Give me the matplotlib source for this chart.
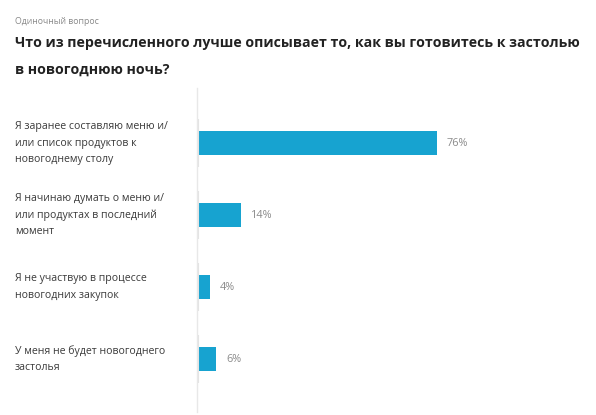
import matplotlib
matplotlib.use("Agg")
import matplotlib.pyplot as plt
import matplotlib.transforms as mtransforms

# survey answers and shares, %
labels = [
    "Я заранее составляю меню и/\nили список продуктов к\nновогоднему столу",
    "Я начинаю думать о меню и/\nили продуктах в последний\nмомент",
    "Я не участвую в процессе\nновогодних закупок",
    "У меня не будет новогоднего\nзастолья",
]
values = [76, 14, 4, 6]
subtitle = "Одиночный вопрос"
title_lines = ["Что из перечисленного лучше описывает то, как вы готовитесь к застолью",
               "в новогоднюю ночь?"]

bar_color = "#17a3d0"
W, H = 596, 415

plt.rcParams["font.family"] = ["Open Sans", "DejaVu Sans"]

fig = plt.figure(figsize=(W / 100, H / 100), dpi=100)
fig.patch.set_facecolor("white")

# axes: x from 197px to right edge, y from 88px to 412px
ax = fig.add_axes([197 / W, 1 - 412 / H, (W - 197) / W, (412 - 88) / H])
ax.set_xlim(0, (W - 197) / 3.154)
ax.set_ylim(3.736, -0.764)

pos = list(range(len(values)))
ax.barh(pos, values, height=0.333, color=bar_color)

for s in ["top", "right", "bottom"]:
    ax.spines[s].set_visible(False)
ax.spines["left"].set_color("#e8e8e8")
ax.spines["left"].set_linewidth(1.0)
ax.set_xticks([])
ax.set_yticks([])

# faint band next to each category
ax.vlines([0.25] * len(pos), [p - 0.333 for p in pos], [p + 0.333 for p in pos],
          color="#e4e4e4", lw=1.5)

for p, v in zip(pos, values):
    ax.text(v + 3.2, p, f"{v}%", va="center", ha="left", fontsize=7.8, color="#8a8a8a")

trans = mtransforms.blended_transform_factory(fig.transFigure, ax.transData)
for p, lab in zip(pos, labels):
    ax.text(15 / W, p, lab, transform=trans, va="center", ha="left",
            fontsize=7.6, color="#3a3a3a", linespacing=1.65)

fig.text(15 / W, 1 - 22 / H, subtitle, fontsize=6.3, color="#8a8a8a", va="center")
fig.text(15 / W, 1 - 43 / H, title_lines[0], fontsize=10.2, fontweight="bold",
         color="#222222", va="center")
fig.text(15 / W, 1 - 70 / H, title_lines[1], fontsize=10.2, fontweight="bold",
         color="#222222", va="center")

fig.savefig("out.png", dpi=100, facecolor="white")
